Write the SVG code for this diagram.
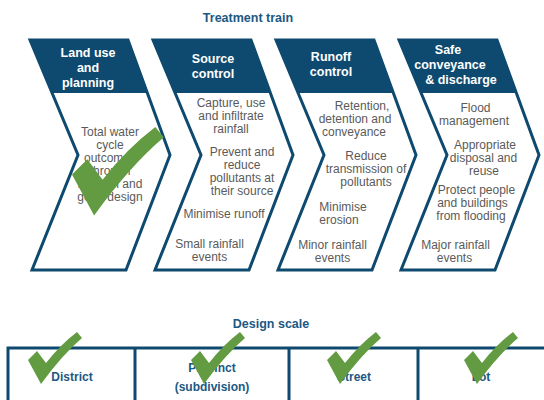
<svg xmlns="http://www.w3.org/2000/svg" width="544" height="400" viewBox="0 0 544 400">
<style>
.chev{fill:#fff;stroke:#0e4a6f;stroke-width:3;stroke-linejoin:miter}
.head{fill:#0e4a6f}
.ht{font-family:"Liberation Sans",Arial,sans-serif;font-weight:bold;font-size:12.5px;fill:#fff;text-anchor:middle}
.bt{font-family:"Liberation Sans",Arial,sans-serif;font-size:12px;fill:#5a5a5a;text-anchor:middle}
.title{font-family:"Liberation Sans",Arial,sans-serif;font-weight:bold;font-size:12.5px;fill:#1c5883;text-anchor:middle}
.lbl{font-family:"Liberation Sans",Arial,sans-serif;font-weight:bold;font-size:12px;fill:#1c5883;text-anchor:middle}
.grid{stroke:#0e4a6f;stroke-width:3;fill:none}
.tick{fill:#629b41}
</style>
<defs>
<path id="chevShape" d="M0,40 L98,40 L140,155 L96,270 L2,270 L48,155 Z"/>
<path id="headShape" d="M1.5,40 L96.5,40 Q98,40 98.6,41.6 L117.4,93 L22.1,93 L0.2,42 Q0,40 1.5,40 Z"/>
<path id="check" d="M0,28 L9,19 L18,31 Q32,13 49,0 L54,6 Q34,23 13,52 Z"/>
</defs>

<text class="title" x="248" y="22">Treatment train</text>

<g id="land-use">
<use href="#chevShape" class="chev" transform="translate(30,0)"/>
<use href="#headShape" class="head" transform="translate(30,0)"/>
<text class="ht" x="88" y="57">Land use</text>
<text class="ht" x="88" y="72">and</text>
<text class="ht" x="88" y="87">planning</text>
<text class="bt" x="110" y="135.5">Total water</text>
<text class="bt" x="110" y="148.5">cycle</text>
<text class="bt" x="110" y="161.5">outcomes</text>
<text class="bt" x="110" y="175">through</text>
<text class="bt" x="110" y="188">location and</text>
<text class="bt" x="110" y="201">good design</text>
</g>

<g id="source-control">
<use href="#chevShape" class="chev" transform="translate(153,0)"/>
<use href="#headShape" class="head" transform="translate(153,0)"/>
<text class="ht" x="213" y="62.5">Source</text>
<text class="ht" x="213" y="77.5">control</text>
<text class="bt" x="231" y="107">Capture, use</text>
<text class="bt" x="231" y="120">and infiltrate</text>
<text class="bt" x="231" y="133">rainfall</text>
<text class="bt" x="242" y="156">Prevent and</text>
<text class="bt" x="242" y="169">reduce</text>
<text class="bt" x="242" y="182">pollutants at</text>
<text class="bt" x="242" y="195">their source</text>
<text class="bt" x="224" y="218">Minimise runoff</text>
<text class="bt" x="209.5" y="247.5">Small rainfall</text>
<text class="bt" x="209.5" y="260.5">events</text>
</g>

<g id="runoff-control">
<use href="#chevShape" class="chev" transform="translate(276,0)"/>
<use href="#headShape" class="head" transform="translate(276,0)"/>
<text class="ht" x="331" y="61">Runoff</text>
<text class="ht" x="331" y="75.5">control</text>
<text class="bt" x="362" y="110">Retention,</text>
<text class="bt" x="355" y="123">detention and</text>
<text class="bt" x="354" y="136">conveyance</text>
<text class="bt" x="366" y="159.5">Reduce</text>
<text class="bt" x="366" y="172.5">transmission of</text>
<text class="bt" x="366" y="185.5">pollutants</text>
<text class="bt" x="343" y="211">Minimise</text>
<text class="bt" x="339" y="224">erosion</text>
<text class="bt" x="332.5" y="248.5">Minor rainfall</text>
<text class="bt" x="332.5" y="261.5">events</text>
</g>

<g id="safe-conveyance">
<use href="#chevShape" class="chev" transform="translate(399,0)"/>
<use href="#headShape" class="head" transform="translate(399,0)"/>
<text class="ht" x="448" y="54">Safe</text>
<text class="ht" x="450" y="69">conveyance</text>
<text class="ht" x="461" y="84">&amp; discharge</text>
<text class="bt" x="475.5" y="112">Flood</text>
<text class="bt" x="474" y="125">management</text>
<text class="bt" x="485" y="148.5">Appropriate</text>
<text class="bt" x="483.5" y="161.5">disposal and</text>
<text class="bt" x="484" y="174.5">reuse</text>
<text class="bt" x="476.5" y="193.5">Protect people</text>
<text class="bt" x="472.5" y="206.5">and buildings</text>
<text class="bt" x="471" y="219.5">from flooding</text>
<text class="bt" x="455.5" y="249">Major rainfall</text>
<text class="bt" x="454.5" y="262">events</text>
</g>

<use href="#check" class="tick" transform="translate(72,127) scale(1.7)"/>

<text class="title" x="271" y="328">Design scale</text>

<g id="connectors">
<path class="grid" d="M8,400 V348 H546 M135,348 V400 M289,348 V400 M418,348 V400"/>
</g>

<g id="district">
<text class="lbl" x="72" y="381">District</text>
<use href="#check" class="tick" transform="translate(28,332)"/>
</g>
<g id="precinct">
<text class="lbl" x="212" y="372">Precinct</text>
<text class="lbl" x="212" y="391">(subdivision)</text>
<use href="#check" class="tick" transform="translate(191,332)"/>
</g>
<g id="street">
<text class="lbl" x="354" y="381">Street</text>
<use href="#check" class="tick" transform="translate(327,332)"/>
</g>
<g id="lot">
<text class="lbl" x="481" y="381">Lot</text>
<use href="#check" class="tick" transform="translate(464,332)"/>
</g>
</svg>
